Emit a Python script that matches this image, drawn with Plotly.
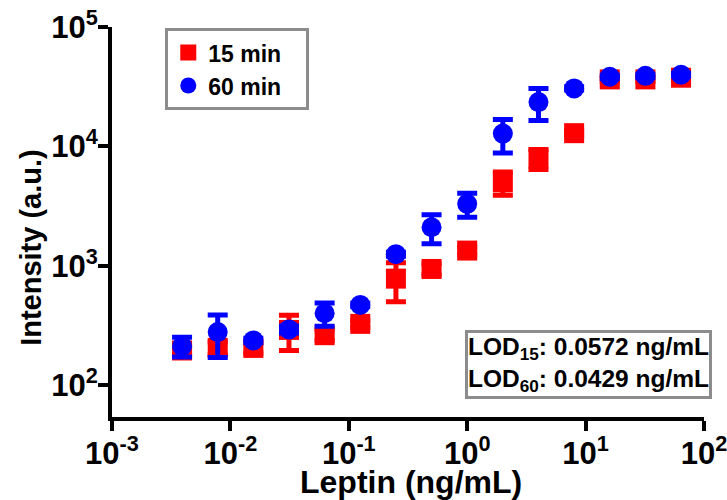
import plotly.graph_objects as go

conc = [0.00390625, 0.0078125, 0.015625, 0.03125, 0.0625, 0.125, 0.25, 0.5, 1, 2, 4, 8, 16, 32, 64]
int_15 = [195, 205, 205, 290, 262, 326, 780, 940, 1340, 5000, 7900, 12900, 36400, 36400, 37600]
sd_15 = [15, 25, 20, 95, 25, 20, 280, 100, 100, 1100, 1500, 600, 1500, 1500, 1500]
int_60 = [212, 278, 237, 293, 400, 470, 1250, 2100, 3300, 12800, 23500, 30600, 38300, 39000, 39800]
sd_60 = [40, 108, 10, 20, 88, 15, 50, 570, 750, 4000, 7000, 1000, 1200, 1200, 1200]

x_tickvals = [1e-3, 1e-2, 1e-1, 1, 10, 100]
x_ticktext = ["10<sup>-3</sup>", "10<sup>-2</sup>", "10<sup>-1</sup>", "10<sup>0</sup>", "10<sup>1</sup>", "10<sup>2</sup>"]
y_tickvals = [1e2, 1e3, 1e4, 1e5]
y_ticktext = ["10<sup>2</sup>", "10<sup>3</sup>", "10<sup>4</sup>", "10<sup>5</sup>"]

FONT = "Liberation Sans, Arial, sans-serif"
# plotly shrinks log-axis array tick labels by 0.75; compensate
TICK_SIZE = 31
NB = "\u00a0"

fig = go.Figure()
fig.add_trace(go.Scatter(
    x=conc, y=int_15, mode="markers", name="15 min" + NB * 3,
    marker=dict(symbol="square", size=20, color="#ff0000", line=dict(width=0)),
    error_y=dict(type="data", array=sd_15, visible=True, color="#ff0000", thickness=5, width=10),
))
fig.add_trace(go.Scatter(
    x=conc, y=int_60, mode="markers", name="60 min" + NB * 3,
    marker=dict(symbol="circle", size=20, color="#0000ff", line=dict(width=0)),
    error_y=dict(type="data", array=sd_60, visible=True, color="#0000ff", thickness=5, width=10),
))

fig.add_annotation(
    xref="paper", yref="paper", x=1.0135, y=0.047, xanchor="right", yanchor="bottom",
    text="LOD<sub>15</sub>: 0.0572 ng/mL<br>LOD<sub>60</sub>: 0.0429 ng/mL",
    align="left", showarrow=False,
    font=dict(family=FONT, size=24.5, color="black", weight="bold"),
    bordercolor="#8c8c8c", borderwidth=3, borderpad=0, bgcolor="white",
)
# axis titles
fig.add_annotation(
    xref="paper", yref="paper", x=0.505, y=-0.167, xanchor="center", yanchor="middle",
    text="Leptin (ng/mL)", showarrow=False,
    font=dict(family=FONT, size=32, color="black", weight="bold"),
)
fig.add_annotation(
    xref="paper", yref="paper", x=-0.137, y=0.436, xanchor="center", yanchor="middle",
    text="Intensity (a.u.)", showarrow=False, textangle=-90,
    font=dict(family=FONT, size=29, color="black", weight="bold"),
)

fig.update_layout(
    width=727, height=500,
    margin=dict(l=112, r=23, t=27, b=83),
    paper_bgcolor="white", plot_bgcolor="white",
    font=dict(family=FONT, size=22, color="black", weight="bold"),
    showlegend=True,
    legend=dict(
        x=0.09, y=0.997, xanchor="left", yanchor="top",
        bordercolor="#8c8c8c", borderwidth=3, bgcolor="white",
        font=dict(family=FONT, size=23, color="black", weight="bold"),
        tracegroupgap=0,
    ),
    xaxis=dict(
        type="log", range=[-3, 2], showgrid=False, zeroline=False, automargin=False,
        showline=True, linecolor="black", linewidth=4,
        ticks="outside", ticklen=10, tickwidth=4, tickcolor="black",
        tickmode="array", tickvals=x_tickvals, ticktext=x_ticktext,
        tickfont=dict(family=FONT, size=TICK_SIZE, weight="bold", color="black"),
        ticklabelstandoff=-4, ticklabeloverflow="allow",
    ),
    yaxis=dict(
        type="log", range=[1.733, 5], showgrid=False, zeroline=False, automargin=False,
        showline=True, linecolor="black", linewidth=4,
        ticks="outside", ticklen=10, tickwidth=4, tickcolor="black",
        tickmode="array", tickvals=y_tickvals, ticktext=y_ticktext,
        tickfont=dict(family=FONT, size=TICK_SIZE, weight="bold", color="black"),
        ticklabelstandoff=-6, ticklabeloverflow="allow",
    ),
)

fig.write_html("out.html", config={"displayModeBar": False},
               post_script="document.body.style.margin='0px';")
